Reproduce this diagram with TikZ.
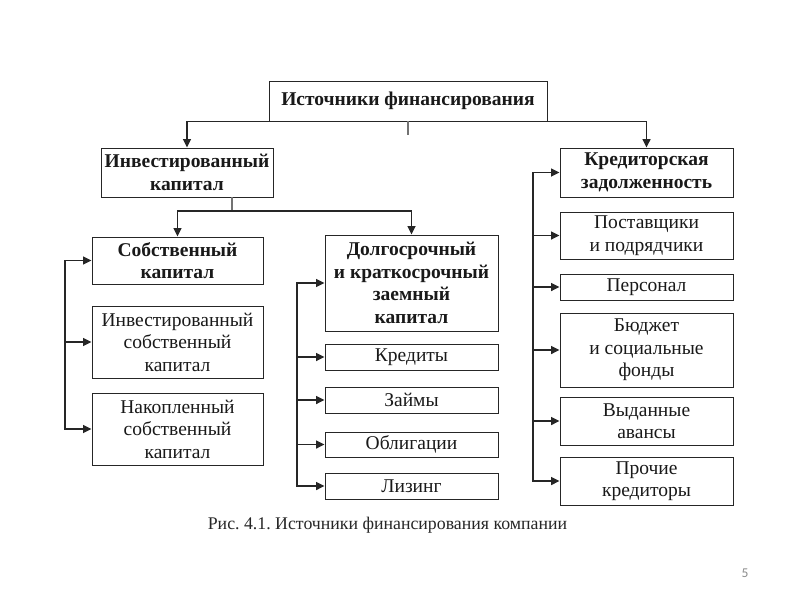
\documentclass[tikz,border=0pt]{standalone}
\usepackage{fontspec}
\setmainfont{Liberation Serif}
\newfontfamily\pagefont{Carlito}
\usetikzlibrary{arrows.meta}
\frenchspacing
\begin{document}
\begin{tikzpicture}[x=1pt,y=-1pt,
  box/.style={draw=black!85, line width=0.9pt, inner sep=0pt, align=center,
    font=\fontsize{19.5}{22.5}\selectfont, text=black!90},
  hbox/.style={box, font=\fontsize{19.5}{22.5}\selectfont\bfseries},
  conn/.style={draw=black!85, line width=1.5pt},
  arr/.style={conn, -{Triangle[length=8.5pt,width=8pt]}},
  arrtwo/.style={conn, {Triangle[length=8.5pt,width=8pt]}-{Triangle[length=8.5pt,width=8pt]}},
  stub/.style={draw=black!55, line width=1.2pt},
]
\useasboundingbox (0,0) rectangle (800,600);
\fill[white] (0,0) rectangle (800,600);

% boxes
\node[hbox, minimum width=278pt, minimum height=40pt] (top) at (408,101) {Источники финансирования};
\node[hbox, minimum width=172pt, minimum height=49pt] (inv) at (187,172.5) {Инвестированный\\капитал};
\node[hbox, minimum width=173pt, minimum height=49pt] (cred) at (646.5,172.5) {Кредиторская\\задолженность};

\node[hbox, minimum width=171pt, minimum height=47pt] (sob) at (177.5,260.5) {Собственный\\капитал};
\node[box, minimum width=171pt, minimum height=72pt] (invs) at (177.5,342) {Инвестированный\\собственный\\капитал};
\node[box, minimum width=171pt, minimum height=72pt] (nak) at (177.5,429) {Накопленный\\собственный\\капитал};

\node[hbox, minimum width=173pt, minimum height=96pt] (dol) at (411.5,283) {Долгосрочный\\и краткосрочный\\заемный\\капитал};
\node[box, minimum width=173pt, minimum height=26pt] (kre) at (411.5,357) {Кредиты};
\node[box, minimum width=173pt, minimum height=26pt] (zai) at (411.5,400) {Займы};
\node[box, minimum width=173pt, minimum height=25pt] (obl) at (411.5,444.5) {Облигации};
\node[box, minimum width=173pt, minimum height=26pt] (liz) at (411.5,486) {Лизинг};

\node[box, minimum width=173pt, minimum height=47pt] (pos) at (646.5,235.5) {Поставщики\\и подрядчики};
\node[box, minimum width=173pt, minimum height=26pt] (per) at (646.5,287) {Персонал};
\node[box, minimum width=173pt, minimum height=74pt] (bud) at (646.5,350) {Бюджет\\и социальные\\фонды};
\node[box, minimum width=173pt, minimum height=48pt] (vyd) at (646.5,421) {Выданные\\авансы};
\node[box, minimum width=173pt, minimum height=48pt] (pro) at (646.5,481) {Прочие\\кредиторы};

% top level connectors
\draw[arr] (top.south) -| (inv.north);
\draw[arr] (top.south) -| (cred.north);
\draw[stub] (top.south) -- ++(0,14);

% invested capital split
\coordinate (j1) at (232,211);
\draw[stub] (inv.south -| j1) -- (j1);
\draw[arr] (j1) -| (sob.north);
\draw[arr] (j1) -| (dol.north);

% left bus
\coordinate (lb) at (65,0);
\draw[arrtwo] (sob.west) -- (sob.west -| lb) -- (nak.west -| lb) -- (nak.west);
\draw[arr] (invs.west -| lb) -- (invs.west);

% middle bus
\coordinate (mb) at (297,0);
\draw[arrtwo] (dol.west) -- (dol.west -| mb) -- (liz.west -| mb) -- (liz.west);
\foreach \n in {kre,zai,obl} \draw[arr] (\n.west -| mb) -- (\n.west);

% right bus
\coordinate (rb) at (533,0);
\draw[arrtwo] (cred.west) -- (cred.west -| rb) -- (pro.west -| rb) -- (pro.west);
\foreach \n in {pos,per,bud,vyd} \draw[arr] (\n.west -| rb) -- (\n.west);

% caption and page number
\node[font=\fontsize{17.8}{21}\selectfont, text=black!85] (cap) at (387.5,525) {Рис. 4.1. Источники финансирования компании};
\node[font=\pagefont\fontsize{13.5}{15}\selectfont, text=black!45] (pg) at (745,573) {5};
\end{tikzpicture}
\end{document}
